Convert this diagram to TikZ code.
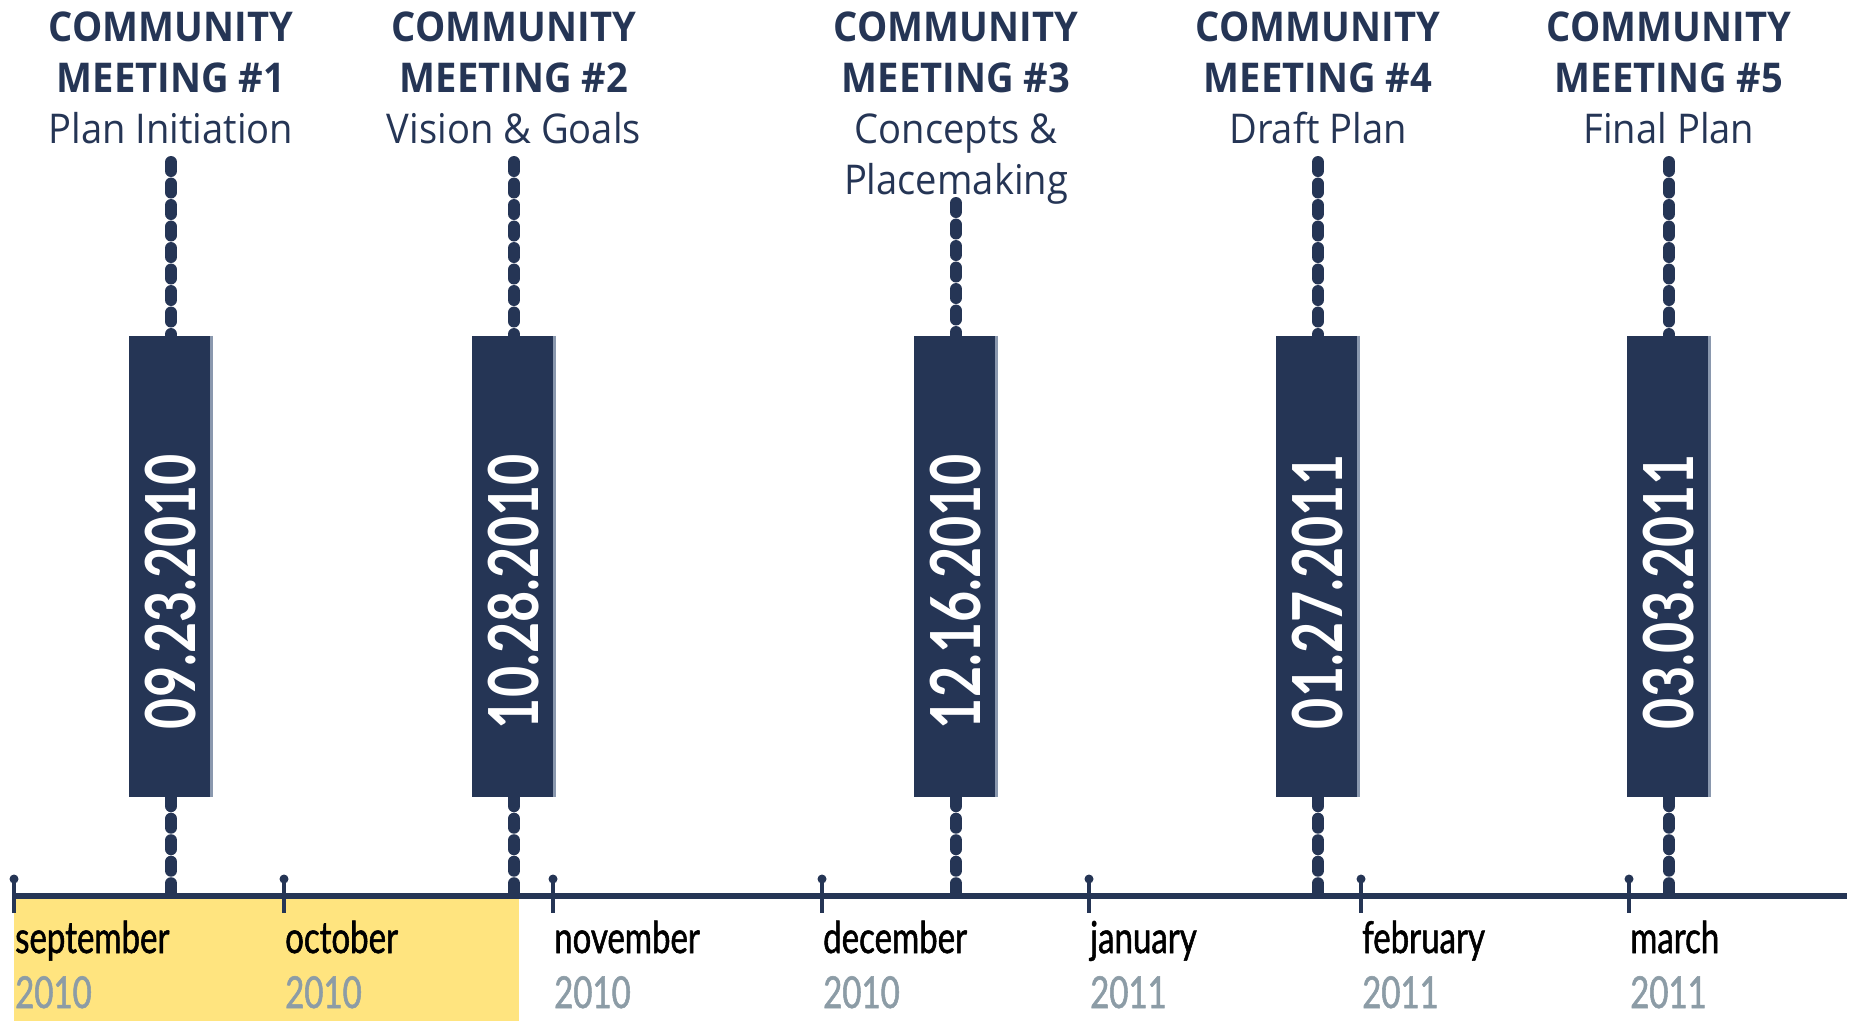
\documentclass[tikz,border=0pt]{standalone}
\usepackage{fontspec}
\newfontfamily\titlefont[FakeStretch=0.93]{Open Sans}
\newfontfamily\monthfont[FakeStretch=0.75,FakeBold=1.2]{Lato}
\newfontfamily\datefont[FakeStretch=0.78]{Lato}
\definecolor{navy}{HTML}{253555}
\definecolor{edgeblue}{HTML}{8A98AE}
\definecolor{hilite}{HTML}{FFE47F}
\definecolor{yeargray}{HTML}{8C9CA6}
\tikzset{
  datebox/.style={fill=navy, draw=none, minimum width=84pt, minimum height=461pt, inner sep=0pt},
  datetext/.style={text=white, font=\datefont\bfseries\fontsize{69}{69}\selectfont, rotate=90, inner sep=0pt},
  title/.style={text=navy, align=center, anchor=north, inner sep=0pt, font=\titlefont\fontsize{41}{51}\selectfont},
  stem/.style={draw=navy, line width=12pt, line cap=round, dash pattern=on 9pt off 12.5pt},
  axisline/.style={draw=navy, line width=6pt},
  tick/.style={draw=navy, line width=4pt},
  knob/.style={fill=navy, circle, inner sep=0pt, minimum size=9pt},
  month/.style={anchor=base west, inner sep=0pt, text=black, font=\monthfont\fontsize{44}{44}\selectfont},
  year/.style={anchor=base west, inner sep=0pt, text=yeargray, font=\monthfont\fontsize{44}{44}\selectfont},
  boxedge/.style={draw=edgeblue, line width=3pt}
}
\begin{document}
\begin{tikzpicture}[x=1pt,y=-1pt]
\useasboundingbox (0,0) rectangle (1854,1021);
% highlight
\fill[hilite] (14,896) rectangle (519,1021);
% axis
\coordinate (axL) at (14,896);
\coordinate (axR) at (1847,896);
\draw[axisline] (axL) -- (axR);
% month ticks and labels
\foreach \x/\m/\y [count=\i] in {14/september/2010, 284/october/2010, 553/november/2010, 822/december/2010, 1089/january/2011, 1361/february/2011, 1629/march/2011}{
  \coordinate (tk\i) at (\x,879);
  \coordinate (tb\i) at (\x,913);
  \draw[tick] (tk\i) -- (tb\i);
  \node[knob] (kn\i) at (tk\i) {};
  \node[month] (mo\i) at (\x+1,953) {\m};
  \node[year] (yr\i) at (\x+1,1008) {\y};
}
% meetings
\foreach \x/\n/\sub/\d/\top [count=\i] in {
  171/1/{Plan Initiation}/09.23.2010/162,
  514/2/{Vision \& Goals}/10.28.2010/162,
  956/3/{Concepts \&\\Placemaking}/12.16.2010/203,
  1318/4/{Draft Plan}/01.27.2011/162,
  1669/5/{Final Plan}/03.03.2011/162}{
  \node[title] (m\i) at (\x,12) {{\bfseries COMMUNITY}\\{\bfseries MEETING \#\n}\\\sub};
  \node[datebox] (b\i) at (\x,566.5) {};
  \draw[boxedge] ([xshift=-1.5pt]b\i.north east) -- ([xshift=-1.5pt]b\i.south east);
  \node[datetext] (d\i) at ([yshift=-25pt]b\i.center) {\d};
  \coordinate (st\i) at (\x,\top);
  \coordinate (ax\i) at (\x,893);
  \draw[stem] (st\i) -- (b\i.north);
  \draw[stem] (b\i.south) -- (ax\i);
}
\end{tikzpicture}
\end{document}
